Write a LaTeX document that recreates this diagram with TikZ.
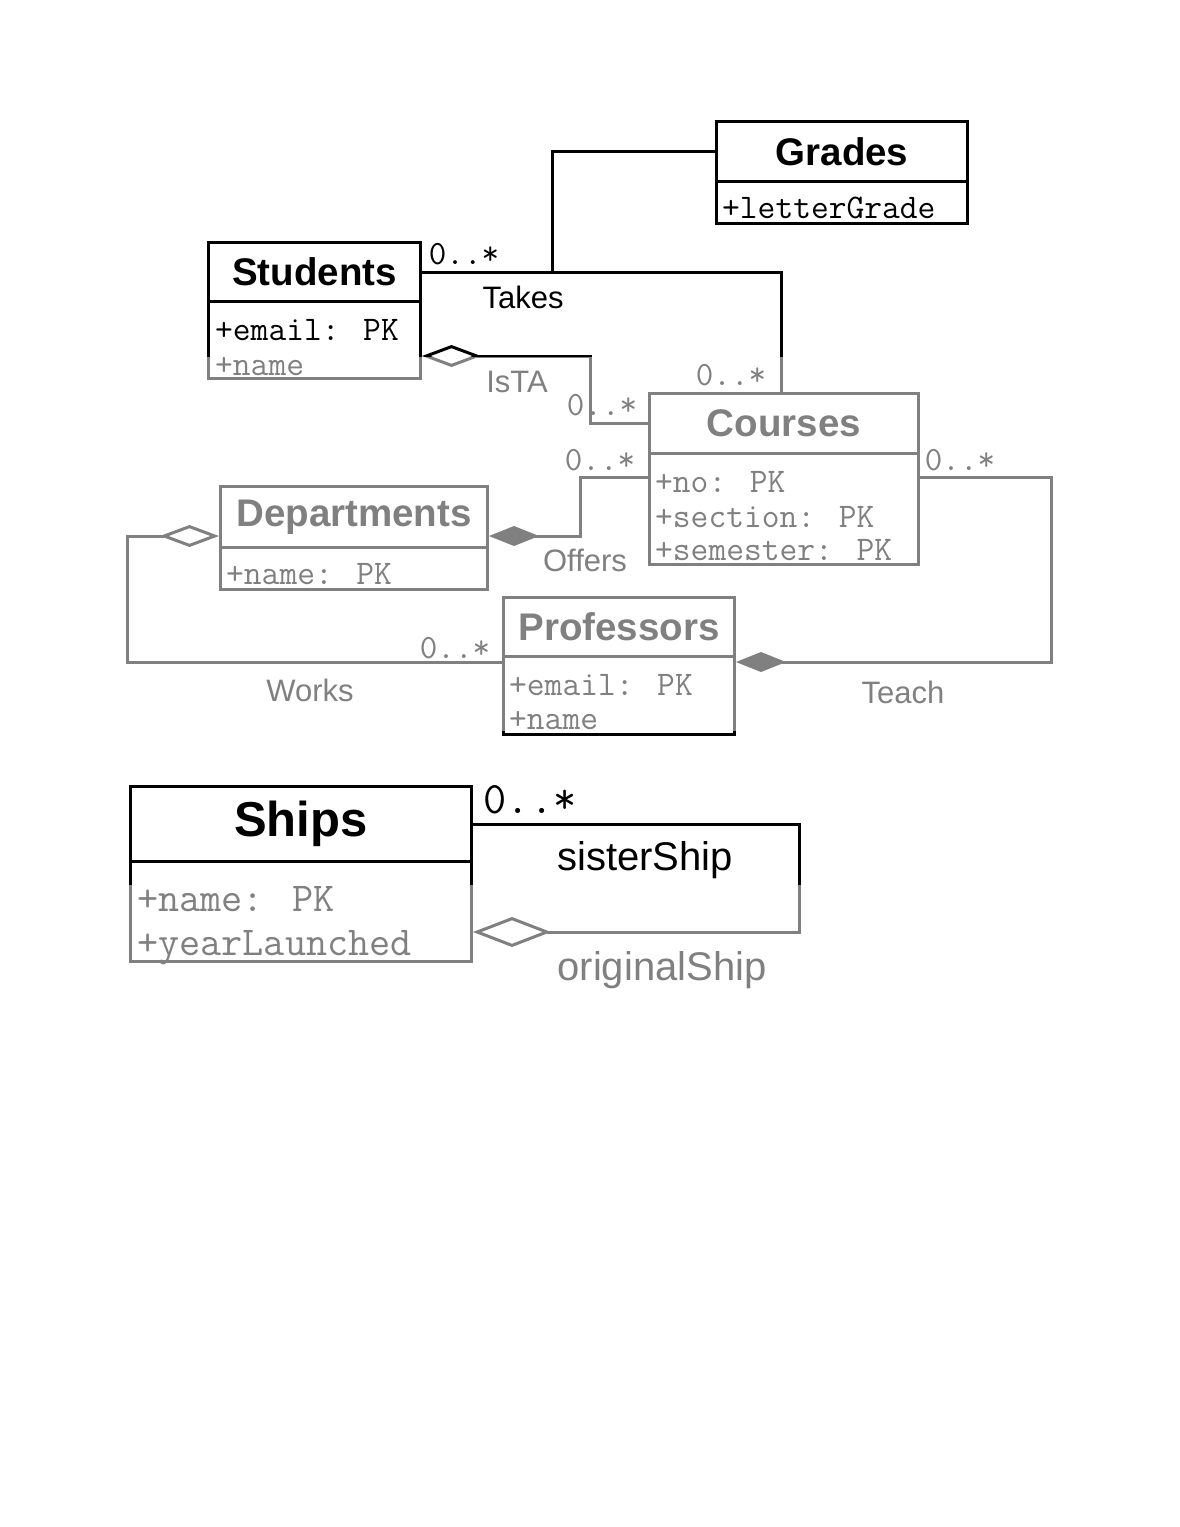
\documentclass[tikz,border=0pt]{standalone}
\usepackage{fontspec}
\setmainfont{Liberation Sans}
\newfontfamily\lmmono{Latin Modern Mono}
\usetikzlibrary{arrows.meta,calc}
\tikzset{
  odia/.tip={Diamond[open,length=59pt,width=22pt]},
  fdia/.tip={Diamond[length=50pt,width=20pt]},
  bdia/.tip={Diamond[open,length=78pt,width=30pt]}
}
\begin{document}
\begin{tikzpicture}[x=1pt,y=-1pt,
  box/.style={draw=black,line width=3pt,rectangle,inner sep=0pt,anchor=north west},
  hdr/.style={box,font=\fontsize{38.5}{40}\selectfont\bfseries},
  bighdr/.style={box,font=\fontsize{49}{51}\selectfont\bfseries},
  attr/.style={anchor=base west,inner sep=0pt,font=\fontsize{34.5}{36}\selectfont\lmmono},
  bigattr/.style={anchor=base west,inner sep=0pt,font=\fontsize{41}{43}\selectfont\lmmono},
  mult/.style={inner sep=0pt,font=\fontsize{34}{36}\selectfont\lmmono},
  bigmult/.style={inner sep=0pt,font=\fontsize{45}{47}\selectfont\lmmono},
  lbl/.style={inner sep=0pt,font=\fontsize{31}{33}\selectfont},
  biglbl/.style={inner sep=0pt,font=\fontsize{40}{42}\selectfont},
  conn/.style={draw=black,line width=3pt}
]
\path[use as bounding box,fill=white] (0,0) rectangle (1180,1527);

% Classes
\node[hdr,minimum width=212pt,minimum height=59pt] (stu) at (207,241) {Students};
\node[box,minimum width=212pt,minimum height=77pt] (stuA) at (207,300) {};
\node[attr] (stu1) at (215,340) {+email: PK};
\node[attr] (stu2) at (215,375) {+name};

\node[hdr,minimum width=251pt,minimum height=60pt] (grd) at (715,120) {Grades};
\node[box,minimum width=251pt,minimum height=42pt] (grdA) at (715,180) {};
\node[attr] (grd1) at (722,218) {+letterGrade};

\node[hdr,minimum width=269pt,minimum height=60pt] (crs) at (648,392) {Courses};
\node[box,minimum width=269pt,minimum height=111pt] (crsA) at (648,452) {};
\node[attr] (crs1) at (655,492) {+no: PK};
\node[attr] (crs2) at (655,527) {+section: PK};
\node[attr] (crs3) at (655,560) {+semester: PK};

\node[hdr,minimum width=267pt,minimum height=61pt] (dep) at (219,485) {Departments};
\node[box,minimum width=267pt,minimum height=42pt] (depA) at (219,546) {};
\node[attr] (dep1) at (226,584) {+name: PK};

\node[hdr,minimum width=231pt,minimum height=59pt] (prf) at (502,596) {Professors};
\node[box,minimum width=231pt,minimum height=78pt] (prfA) at (502,655) {};
\node[attr] (prf1) at (509,695) {+email: PK};
\node[attr] (prf2) at (509,729) {+name};

\node[bighdr,minimum width=341pt,minimum height=75pt] (shp) at (129,785) {Ships};
\node[box,minimum width=341pt,minimum height=100pt] (shpA) at (129,860) {};
\node[bigattr] (shp1) at (137,911) {+name: PK};
\node[bigattr] (shp2) at (137,955) {+yearLaunched};

% Connectors
\coordinate (tk) at ($(stu.east)+(130,0)$);
\coordinate (tc) at ($(crs.north)+(-3,0)$);
\draw[conn] (stu.east) -| (tc);
\draw[conn] (grd.west) -| (tk);

\coordinate (isA) at ($(stuA.north east)+(0,56)$);
\coordinate (isB) at ($(isA)+(168,0)$);
\draw[conn,odia-] (isA) -- (isB) |- (crs.west);

\coordinate (dO) at ($(dep.north east)+(0,51)$);
\coordinate (cO) at ($(crsA.north west)+(0,25)$);
\draw[conn,fdia-] (dO) -- ($(dO)+(91,0)$) |- (cO);

\coordinate (pT) at ($(prfA.north east)+(0,7)$);
\coordinate (cT) at ($(crsA.north east)+(0,25)$);
\draw[conn,fdia-] (pT) -- ($(pT)+(315,0)$) |- (cT);

\coordinate (dW) at ($(dep.north west)+(0,51)$);
\coordinate (pW) at ($(prfA.north west)+(0,7)$);
\draw[conn,odia-] (dW) -- ($(dW)+(-92,0)$) |- (pW);

\coordinate (sA) at ($(shpA.north east)+(0,72)$);
\draw[conn,-bdia] (shp.east) -- ($(shp.east)+(326,0)$) |- (sA);

% Labels
\node[mult] (m1) at (464,254) {0..*};
\node[mult] (m2) at (731,375) {0..*};
\node[mult] (m3) at (602,405) {0..*};
\node[mult] (m4) at (600,460) {0..*};
\node[mult] (m5) at (960,460) {0..*};
\node[mult] (m6) at (455,648) {0..*};
\node[bigmult] (m7) at (530,800) {0..*};

\node[lbl] (l1) at (523,297) {Takes};
\node[lbl] (l2) at (517,382) {IsTA};
\node[lbl] (l3) at (585,560) {Offers};
\node[lbl] (l4) at (310,690) {Works};
\node[lbl] (l5) at (903,692) {Teach};
\node[biglbl] (l6) at (645,860) {sisterShip};
\node[biglbl] (l7) at (662,970) {originalShip};

% blurred (faded) regions of the reference
\fill[white,fill opacity=0.5] (108,357) rectangle (1068,731);
\fill[white,fill opacity=0.5] (118,885) rectangle (808,1000);
\end{tikzpicture}
\end{document}
